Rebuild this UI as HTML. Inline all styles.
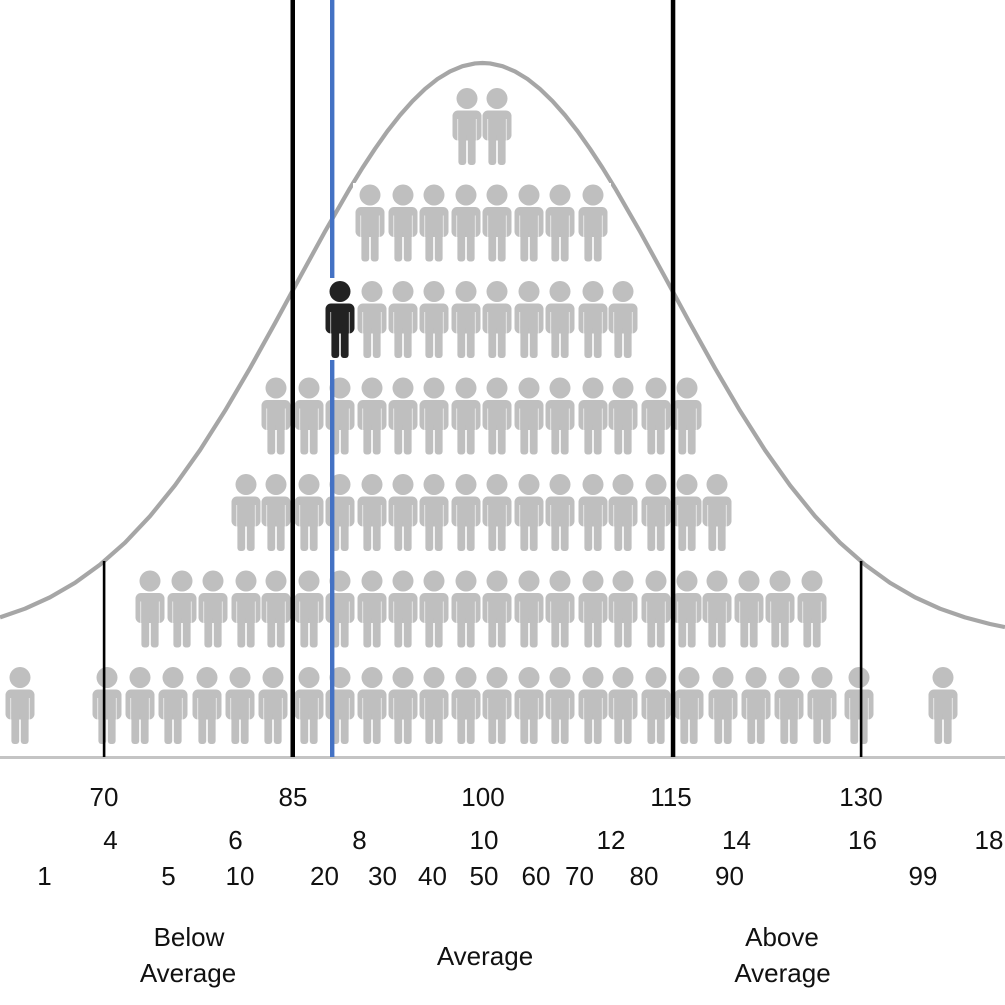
<!DOCTYPE html>
<html>
<head>
<meta charset="utf-8">
<style>
html,body{margin:0;padding:0;background:#fff;}
svg{display:block;}
text{font-family:"Liberation Sans",Arial,sans-serif;font-size:26px;fill:#111;text-anchor:middle;}
</style>
</head>
<body>
<svg width="1005" height="1005" viewBox="0 0 1005 1005" xmlns="http://www.w3.org/2000/svg">
<defs>
  <g id="p">
    <circle cx="0" cy="10.5" r="10.5"/>
    <rect x="-14.5" y="22.5" width="29" height="30" rx="5.5"/>
    <rect x="-8.6" y="44" width="7.8" height="33" rx="3"/>
    <rect x="0.8" y="44" width="7.8" height="33" rx="3"/>
    <line x1="-9.3" y1="31" x2="-9.3" y2="53" stroke="#fff" stroke-width="0.9" stroke-opacity="0.7"/>
    <line x1="9.3" y1="31" x2="9.3" y2="53" stroke="#fff" stroke-width="0.9" stroke-opacity="0.7"/>
  </g>
</defs>
<rect width="1005" height="1005" fill="#fff"/>

<!-- bell curve -->
<polyline fill="none" stroke="#a6a6a6" stroke-width="4.2" stroke-linejoin="round"
 points="0,617.4 25,608.7 50,597.3 75,582.8 100,564.7 125,542.7 150,516.2 175,485.3 200,450.1 225,410.8 250,368.2 275,323.2 300,277.1 325,231.5 350,188.1 362.5,167.8 375,148.8 387.5,131.1 400,115.2 412.5,101.1 425,89.0 437.5,79.0 450,71.4 462.5,66.2 475,63.45 482.5,63 490,63.45 502.5,66.2 515,71.4 527.5,79.0 540,89.0 552.5,101.1 565,115.2 577.5,131.1 590,148.8 602.5,167.8 615,188.1 640,231.5 665,277.1 690,323.2 715,368.2 740,410.8 765,450.1 790,485.3 815,516.2 840,542.7 865,564.7 890,582.8 915,597.3 940,608.7 965,617.4 990,624.0 1005,627.1"/>

<!-- white box behind row 2 -->
<rect x="353" y="183" width="258" height="80" fill="#fff"/>

<g fill="#bfbfbf">
  <!-- row 1 -->
  <use href="#p" x="467" y="88"/><use href="#p" x="497" y="88"/>
  <!-- row 2 -->
  <use href="#p" x="370" y="184.5"/><use href="#p" x="403" y="184.5"/><use href="#p" x="434" y="184.5"/><use href="#p" x="466" y="184.5"/><use href="#p" x="497" y="184.5"/><use href="#p" x="529" y="184.5"/><use href="#p" x="560" y="184.5"/><use href="#p" x="593" y="184.5"/>
  <!-- row 3 -->
  <use href="#p" x="372" y="281"/><use href="#p" x="403" y="281"/><use href="#p" x="434" y="281"/><use href="#p" x="466" y="281"/><use href="#p" x="497" y="281"/><use href="#p" x="529" y="281"/><use href="#p" x="560" y="281"/><use href="#p" x="593" y="281"/><use href="#p" x="623" y="281"/>
  <!-- row 4 -->
  <use href="#p" x="276" y="377.5"/><use href="#p" x="309" y="377.5"/><use href="#p" x="340" y="377.5"/><use href="#p" x="372" y="377.5"/><use href="#p" x="403" y="377.5"/><use href="#p" x="434" y="377.5"/><use href="#p" x="466" y="377.5"/><use href="#p" x="497" y="377.5"/><use href="#p" x="529" y="377.5"/><use href="#p" x="560" y="377.5"/><use href="#p" x="593" y="377.5"/><use href="#p" x="623" y="377.5"/><use href="#p" x="656" y="377.5"/><use href="#p" x="687" y="377.5"/>
  <!-- row 5 -->
  <use href="#p" x="246" y="474"/><use href="#p" x="276" y="474"/><use href="#p" x="309" y="474"/><use href="#p" x="340" y="474"/><use href="#p" x="372" y="474"/><use href="#p" x="403" y="474"/><use href="#p" x="434" y="474"/><use href="#p" x="466" y="474"/><use href="#p" x="497" y="474"/><use href="#p" x="529" y="474"/><use href="#p" x="560" y="474"/><use href="#p" x="593" y="474"/><use href="#p" x="623" y="474"/><use href="#p" x="656" y="474"/><use href="#p" x="687" y="474"/><use href="#p" x="717" y="474"/>
  <!-- row 6 -->
  <use href="#p" x="150" y="570.5"/><use href="#p" x="182" y="570.5"/><use href="#p" x="213" y="570.5"/><use href="#p" x="246" y="570.5"/><use href="#p" x="276" y="570.5"/><use href="#p" x="309" y="570.5"/><use href="#p" x="340" y="570.5"/><use href="#p" x="372" y="570.5"/><use href="#p" x="403" y="570.5"/><use href="#p" x="434" y="570.5"/><use href="#p" x="466" y="570.5"/><use href="#p" x="497" y="570.5"/><use href="#p" x="529" y="570.5"/><use href="#p" x="560" y="570.5"/><use href="#p" x="593" y="570.5"/><use href="#p" x="623" y="570.5"/><use href="#p" x="656" y="570.5"/><use href="#p" x="687" y="570.5"/><use href="#p" x="717" y="570.5"/><use href="#p" x="749" y="570.5"/><use href="#p" x="780" y="570.5"/><use href="#p" x="812" y="570.5"/>
  <!-- row 7 -->
  <use href="#p" x="20" y="667"/><use href="#p" x="107" y="667"/><use href="#p" x="140" y="667"/><use href="#p" x="173" y="667"/><use href="#p" x="207" y="667"/><use href="#p" x="240" y="667"/><use href="#p" x="273" y="667"/><use href="#p" x="309" y="667"/><use href="#p" x="340" y="667"/><use href="#p" x="372" y="667"/><use href="#p" x="403" y="667"/><use href="#p" x="434" y="667"/><use href="#p" x="466" y="667"/><use href="#p" x="497" y="667"/><use href="#p" x="529" y="667"/><use href="#p" x="560" y="667"/><use href="#p" x="593" y="667"/><use href="#p" x="623" y="667"/><use href="#p" x="656" y="667"/><use href="#p" x="689" y="667"/><use href="#p" x="723" y="667"/><use href="#p" x="756" y="667"/><use href="#p" x="789" y="667"/><use href="#p" x="822" y="667"/><use href="#p" x="859" y="667"/><use href="#p" x="943" y="667"/>
</g>

<!-- axis -->
<rect x="0" y="756" width="1005" height="3" fill="#c4c4c4"/>

<!-- vertical lines -->
<rect x="290.5" y="0" width="4.5" height="757" fill="#000"/>
<rect x="670.8" y="0" width="4.5" height="757" fill="#000"/>
<rect x="102.8" y="561" width="2.6" height="196" fill="#000"/>
<rect x="859.8" y="561" width="2.6" height="196" fill="#000"/>

<!-- blue marker line -->
<rect x="330" y="0" width="4.4" height="278" fill="#4472c4"/>
<rect x="330" y="360" width="4.4" height="397" fill="#4472c4"/>

<!-- highlighted person -->
<use href="#p" x="340" y="281" fill="#222"/>

<!-- labels -->
<text x="104" y="806">70</text>
<text x="293" y="806">85</text>
<text x="483" y="806">100</text>
<text x="671" y="806">115</text>
<text x="861" y="806">130</text>

<text x="110.5" y="849">4</text>
<text x="235.5" y="849">6</text>
<text x="359.5" y="849">8</text>
<text x="484" y="849">10</text>
<text x="611" y="849">12</text>
<text x="736.5" y="849">14</text>
<text x="862.5" y="849">16</text>
<text x="989" y="849">18</text>

<text x="44.5" y="885">1</text>
<text x="168.5" y="885">5</text>
<text x="240" y="885">10</text>
<text x="324.5" y="885">20</text>
<text x="382.5" y="885">30</text>
<text x="432.5" y="885">40</text>
<text x="484" y="885">50</text>
<text x="536" y="885">60</text>
<text x="579.5" y="885">70</text>
<text x="644" y="885">80</text>
<text x="729.5" y="885">90</text>
<text x="923" y="885">99</text>

<text x="189" y="946">Below</text>
<text x="188" y="982">Average</text>
<text x="485" y="965">Average</text>
<text x="782" y="946">Above</text>
<text x="782.5" y="982">Average</text>
</svg>
</body>
</html>
